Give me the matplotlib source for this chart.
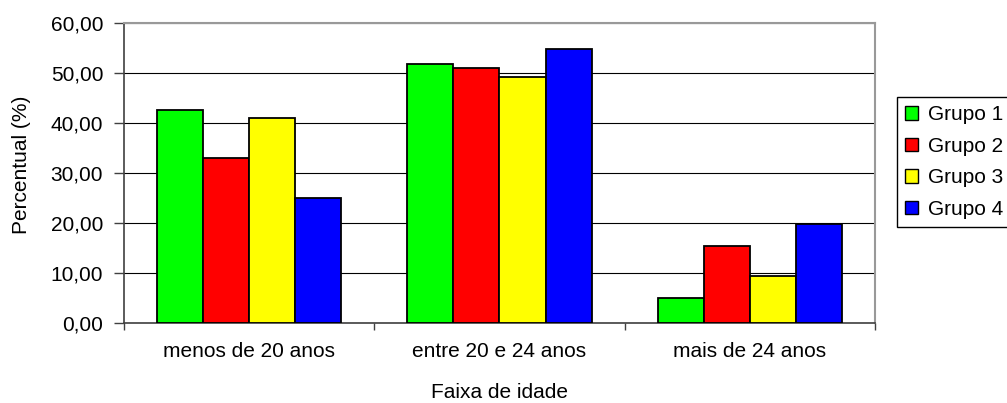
import numpy as np
import matplotlib.pyplot as plt
from matplotlib.ticker import FuncFormatter, FixedLocator

plt.rcParams['font.family'] = ['Liberation Sans', 'DejaVu Sans']

faixas = ['menos de 20 anos', 'entre 20 e 24 anos', 'mais de 24 anos']
grupos = ['Grupo 1', 'Grupo 2', 'Grupo 3', 'Grupo 4']
grupo1 = [42.6, 51.8, 5.0]
grupo2 = [33.1, 51.1, 15.5]
grupo3 = [41.1, 49.2, 9.4]
grupo4 = [25.1, 54.8, 19.8]
cores = ['#00FF00', '#FF0000', '#FFFF00', '#0000FF']

series = [grupo1, grupo2, grupo3, grupo4]

fig = plt.figure(figsize=(10.07, 4.03), dpi=100)
ax = fig.add_axes([124 / 1007, 1 - 323 / 403, 751 / 1007, 300 / 403])

x = np.arange(len(faixas)) + 0.5
w = 0.184
for i, (vals, cor, nome) in enumerate(zip(series, cores, grupos)):
    ax.bar(x + (i - 1.5) * w, vals, width=w, color=cor, edgecolor='black',
           linewidth=1.3, label=nome, zorder=3)

ax.set_xlim(0, 3)
ax.set_ylim(0, 60)
ax.set_yticks(np.arange(0, 61, 10))
ax.yaxis.set_major_formatter(FuncFormatter(lambda v, p: f'{v:.2f}'.replace('.', ',')))
ax.yaxis.grid(True, color='black', linewidth=0.8, zorder=0)
ax.set_axisbelow(True)

# category labels centred, ticks on the group boundaries
ax.set_xticks(x)
ax.set_xticklabels(faixas)
ax.tick_params(axis='x', which='major', length=0, pad=14, labelsize=15)
ax.xaxis.set_minor_locator(FixedLocator([0, 1, 2, 3]))
ax.tick_params(axis='x', which='minor', length=5, width=1, color='#404040')
ax.tick_params(axis='y', length=7, width=1, color='#404040', pad=8, labelsize=15)

for s in ['left', 'bottom']:
    ax.spines[s].set_color('#404040')
    ax.spines[s].set_linewidth(1.2)
for s in ['top', 'right']:
    ax.spines[s].set_color('#999999')
    ax.spines[s].set_linewidth(1.5)

fig.text(499.5 / 1007, 1 - 398 / 403, 'Faixa de idade', fontsize=15,
         ha='center', va='baseline')
fig.text(22 / 1007, 1 - 165 / 403, 'Percentual (%)', fontsize=15,
         rotation=90, ha='center', va='center')

leg = ax.legend(loc='upper left', bbox_to_anchor=(897 / 1007, 1 - 97 / 403),
                bbox_transform=fig.transFigure, borderaxespad=0,
                fontsize=15, frameon=True, fancybox=False, framealpha=1,
                edgecolor='black', handlelength=0.6, handleheight=0.6,
                handletextpad=0.5, labelspacing=0.6, borderpad=0.4)
leg.get_frame().set_linewidth(1.0)
for h in leg.legend_handles:
    h.set_linewidth(1.0)

fig.savefig('out.png', dpi=100)
